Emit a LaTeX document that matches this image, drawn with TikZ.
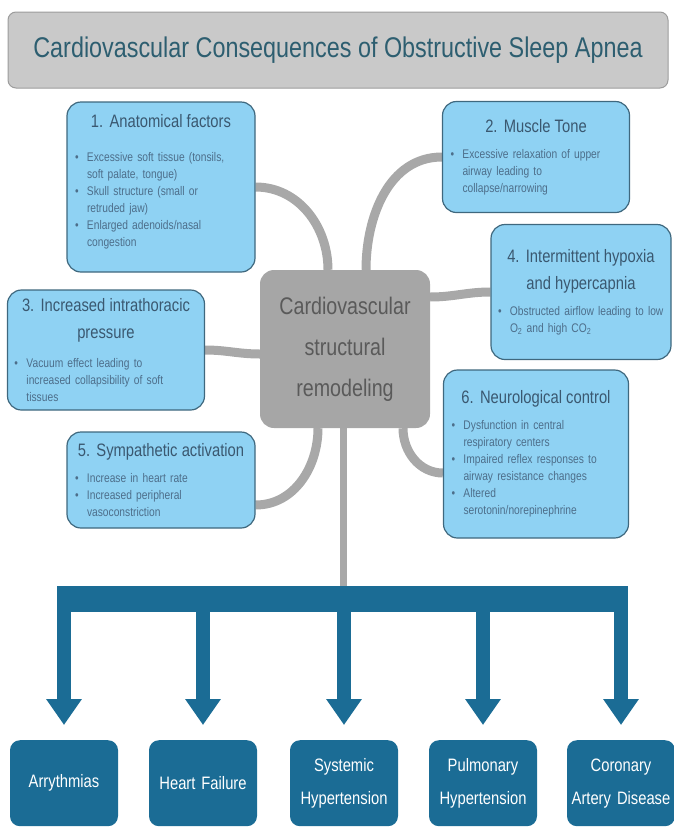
\documentclass[tikz,border=0pt]{standalone}
\usepackage{fontspec}
\setmainfont{Liberation Sans}[FakeStretch=0.82]
\usetikzlibrary{positioning,arrows.meta,backgrounds}

\definecolor{titlegray}{HTML}{C9C9C9}
\definecolor{titleline}{HTML}{9C9C9C}
\definecolor{titletext}{HTML}{2D5E70}
\definecolor{boxblue}{HTML}{8FD2F3}
\definecolor{boxline}{HTML}{3F687E}
\definecolor{headtext}{HTML}{3A5870}
\definecolor{bultext}{HTML}{4D6E8A}
\definecolor{hubgray}{HTML}{A6A6A6}
\definecolor{hubtext}{HTML}{5A5A5A}
\definecolor{linkgray}{HTML}{A8A8A8}
\definecolor{outblue}{HTML}{1B6C95}

\newcommand{\fhead}[2][9pt]{{\fontsize{18}{27}\selectfont\color{headtext}\centering #2\par}\vspace{#1}}
\newcommand{\bul}[1]{\par\noindent\hangindent=14pt\hangafter=1\hbox to 14pt{\hskip2pt\textbullet\hfil}#1\par}

\begin{document}
\begin{tikzpicture}[x=1pt,y=-1pt,
  factor/.style={draw=boxline,fill=boxblue,line width=1.2pt,rounded corners=14pt,
    align=left,inner sep=6pt,text=bultext,font=\fontsize{12.5}{17}\selectfont},
  hub/.style={fill=hubgray,rounded corners=14pt,minimum width=170pt,minimum height=158pt,
    text width=160pt,align=center,text=hubtext,font=\fontsize{24}{41}\selectfont},
  outcome/.style={fill=outblue,rounded corners=10pt,minimum width=108pt,minimum height=86pt,
    text width=104pt,inner sep=2pt,align=center,text=white,font=\fontsize{18}{33}\selectfont},
  link/.style={draw=linkgray,line width=9pt},
  stem/.style={draw=outblue,line width=14pt,-{Triangle[width=34pt,length=26pt]},shorten >=15pt},
]
\useasboundingbox (0,0) rectangle (674,828);

% title
\node (title) [draw=titleline,fill=titlegray,line width=1pt,rounded corners=8pt,
  minimum width=660pt,minimum height=76pt,text=titletext,font=\fontsize{28.5}{30}\selectfont]
  at (338,50) {Cardiovascular Consequences of Obstructive Sleep Apnea};

% hub
\node (c) [hub] at (345,349) {Cardiovascular\\structural\\remodeling};

% factors
\node (1) [factor,minimum width=188pt,minimum height=170pt,text width=176pt] at (161,187)
  {\fhead[17pt]{1. Anatomical factors}
   \bul{Excessive soft tissue (tonsils,\newline soft palate, tongue)}
   \bul{Skull structure (small or\newline retruded jaw)}
   \bul{Enlarged adenoids/nasal\newline congestion}\vspace{10pt}};
\node (2) [factor,minimum width=187pt,minimum height=111pt,text width=175pt] at (536,157)
  {\fhead{2. Muscle Tone}
   \bul{Excessive relaxation of upper\newline airway leading to\newline collapse/narrowing}};
\node (4) [factor,minimum width=180pt,minimum height=135pt,text width=170pt,inner sep=5pt] at (581,292)
  {\fhead{4. Intermittent hypoxia\\and hypercapnia}
   \bul{Obstructed airflow leading to low\newline O\textsubscript{2} and high CO\textsubscript{2}}};
\node (3) [factor,minimum width=197pt,minimum height=120pt,text width=187pt,inner sep=5pt] at (106,350)
  {\fhead[12pt]{3. Increased intrathoracic\\pressure}
   \bul{Vacuum effect leading to\newline increased collapsibility of soft\newline tissues}};
\node (5) [factor,minimum width=188pt,minimum height=96pt,text width=176pt] at (161,480)
  {\fhead{5. Sympathetic activation}
   \bul{Increase in heart rate}
   \bul{Increased peripheral\newline vasoconstriction}};
\node (6) [factor,minimum width=185pt,minimum height=168pt,text width=173pt] at (536,454)
  {\fhead{6. Neurological control}
   \bul{Dysfunction in central\newline respiratory centers}
   \bul{Impaired reflex responses to\newline airway resistance changes}
   \bul{Altered\newline serotonin/norepinephrine}};

% outcomes
\coordinate (bar) at (344,599);
\node (o1) [outcome,anchor=north] at (64,740) {Arrythmias};
\node (o2) [outcome,anchor=north] at (203,740) {Heart Failure};
\node (o3) [outcome,anchor=north] at (344,740) {Systemic\\Hypertension};
\node (o4) [outcome,anchor=north] at (483,740) {Pulmonary\\Hypertension};
\node (o5) [outcome,anchor=north] at (621,740) {Coronary\\Artery Disease};

\begin{scope}[on background layer]
\path[link]
(1.east) edge [out=0,in=90] ([xshift=-17pt]c.north)
(2.west) edge [out=180,in=90] ([xshift=21pt]c.north)
(4.west) edge [out=180,in=0] ([yshift=52pt]c.east)
(3.east) edge [out=0,in=180] ([yshift=-5pt]c.west)
([yshift=-25pt]5.east) edge [out=0,in=-90] ([xshift=-27pt]c.south)
([yshift=-19pt]6.west) edge [out=180,in=-90] ([xshift=58pt]c.south);
\draw[draw=linkgray,line width=7pt] ([xshift=-2pt]c.south) -- ([xshift=-2pt]c.south |- bar);
\end{scope}

\draw[draw=outblue,line width=26pt] ([xshift=-7pt]o1 |- bar) -- ([xshift=7pt]o5 |- bar);
\draw[stem] (o1 |- bar) -- (o1.north);
\draw[stem] (o2 |- bar) -- (o2.north);
\draw[stem] (o3 |- bar) -- (o3.north);
\draw[stem] (o4 |- bar) -- (o4.north);
\draw[stem] (o5 |- bar) -- (o5.north);

\end{tikzpicture}
\end{document}
